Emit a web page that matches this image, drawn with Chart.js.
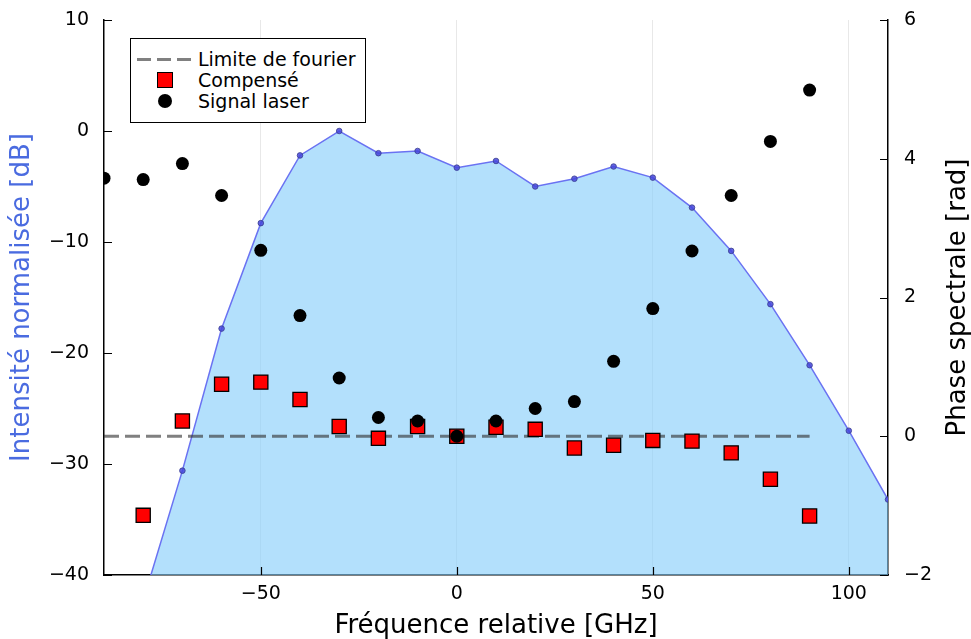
<!DOCTYPE html>
<html>
<head>
<meta charset="utf-8">
<script src="https://cdn.jsdelivr.net/npm/chart.js@4"></script>
<style>
    html, body { margin: 0; padding: 0; background: #fff; }
    #wrap { position: relative; width: 971px; height: 639px; }
    #legend {
        position: absolute; left: 130px; top: 38px; width: 236px; height: 85px;
        border: 1.5px solid #000; background: #fff; box-sizing: border-box;
        font: 19px "DejaVu Sans", sans-serif; color: #000;
    }
    .item { position: absolute; left: 0; height: 22px; line-height: 22px; width: 100%; }
    .item span { position: absolute; left: 67px; white-space: nowrap; }
    .dash { position: absolute; left: 6px; top: 10px; width: 56px; height: 3px;
            background: repeating-linear-gradient(90deg, #808080 0 14px, transparent 14px 20px); }
    .sq { position: absolute; left: 26px; top: 3px; width: 16px; height: 16px;
          background: #f00; border: 1.5px solid #000; box-sizing: border-box; }
    .dot { position: absolute; left: 27px; top: 4px; width: 14px; height: 14px;
           background: #000; border-radius: 50%; }
</style>
</head>
<body>
<div id="wrap">
    <canvas id="chart" width="971" height="639"></canvas>
    <div id="legend">
        <div class="item" style="top:9px"><div class="dash"></div><span>Limite de fourier</span></div>
        <div class="item" style="top:30px"><div class="sq"></div><span>Compensé</span></div>
        <div class="item" style="top:51px"><div class="dot"></div><span>Signal laser</span></div>
    </div>
</div>
<script>
const freqIntensite = [-80, -70, -60, -50, -40, -30, -20, -10, 0, 10, 20, 30, 40, 50, 60, 70, 80, 90, 100, 110];
const intensiteDb = [-42.3, -30.6, -17.8, -8.3, -2.2, 0, -2.0, -1.8, -3.3, -2.7, -5.0, -4.3, -3.2, -4.2, -6.9, -10.8, -15.6, -21.1, -27.0, -33.2];

const freqPhase = [-90, -80, -70, -60, -50, -40, -30, -20, -10, 0, 10, 20, 30, 40, 50, 60, 70, 80, 90];
const phaseLaser = [3.72, 3.70, 3.93, 3.47, 2.68, 1.74, 0.84, 0.27, 0.22, 0, 0.22, 0.40, 0.50, 1.08, 1.84, 2.67, 3.47, 4.25, 4.99];

const freqCompense = [-80, -70, -60, -50, -40, -30, -20, -10, 0, 10, 20, 30, 40, 50, 60, 70, 80, 90];
const phaseCompense = [-1.14, 0.22, 0.75, 0.78, 0.53, 0.14, -0.03, 0.14, 0, 0.13, 0.10, -0.17, -0.13, -0.06, -0.07, -0.24, -0.62, -1.15];

const limiteFreq = [-90, 90];
const limitePhase = [0, 0];

const xTicks = [-50, 0, 50, 100];
const yTicks = [-40, -30, -20, -10, 0, 10];
const y2Ticks = [-2, 0, 2, 4, 6];

function pts(xs, ys) {
    return xs.map((x, i) => ({ x: x, y: ys[i] }));
}

function minus(v) {
    return String(v).replace("-", "\u2212");
}

const tickFont = { family: "DejaVu Sans", size: 19 };
const titleFont = { family: "DejaVu Sans", size: 26 };

// inward ticks + right axis title (reads bottom to top)
const axisExtras = {
    id: "axisExtras",
    afterDraw(chart) {
        const { ctx, chartArea, scales } = chart;
        ctx.save();
        ctx.strokeStyle = "#000";
        ctx.lineWidth = 1.2;
        ctx.beginPath();
        xTicks.forEach(v => {
            const px = Math.round(scales.x.getPixelForValue(v)) + 0.5;
            ctx.moveTo(px, chartArea.bottom);
            ctx.lineTo(px, chartArea.bottom - 8);
        });
        yTicks.forEach(v => {
            const py = Math.round(scales.y.getPixelForValue(v)) + 0.5;
            ctx.moveTo(chartArea.left, py);
            ctx.lineTo(chartArea.left + 8, py);
        });
        y2Ticks.forEach(v => {
            const py = Math.round(scales.y2.getPixelForValue(v)) + 0.5;
            ctx.moveTo(chartArea.right, py);
            ctx.lineTo(chartArea.right - 8, py);
        });
        ctx.stroke();

        ctx.translate(958, (chartArea.top + chartArea.bottom) / 2);
        ctx.rotate(-Math.PI / 2);
        ctx.fillStyle = "#000";
        ctx.font = "26px 'DejaVu Sans'";
        ctx.textAlign = "center";
        ctx.textBaseline = "middle";
        ctx.fillText("Phase spectrale [rad]", 0, 0);
        ctx.restore();
    }
};

function fixVertical(width) {
    return function (scale) {
        scale.width = width;
        scale.paddingTop = 0;
        scale.paddingBottom = 0;
    };
}

new Chart(document.getElementById("chart"), {
    type: "scatter",
    data: {
        datasets: [
            {
                label: "Signal laser",
                data: pts(freqPhase, phaseLaser),
                yAxisID: "y2",
                backgroundColor: "#000",
                borderColor: "#000",
                pointRadius: 6.5,
                pointBorderWidth: 0,
                order: 1
            },
            {
                label: "Compensé",
                data: pts(freqCompense, phaseCompense),
                yAxisID: "y2",
                pointStyle: "rect",
                backgroundColor: "#ff0000",
                borderColor: "#000",
                pointBorderWidth: 1.3,
                pointRadius: 10,
                order: 2
            },
            {
                label: "Limite de fourier",
                type: "line",
                data: pts(limiteFreq, limitePhase),
                yAxisID: "y2",
                borderColor: "rgba(50, 50, 50, 0.62)",
                borderWidth: 3,
                borderDash: [15, 6],
                pointRadius: 0,
                fill: false,
                order: 3
            },
            {
                label: "Intensité",
                type: "line",
                data: pts(freqIntensite, intensiteDb),
                yAxisID: "y",
                borderColor: "#6a72f2",
                borderWidth: 1.5,
                backgroundColor: "rgba(135, 206, 250, 0.63)",
                fill: "start",
                pointRadius: 2.8,
                pointBackgroundColor: "rgba(70, 70, 220, 0.85)",
                pointBorderColor: "#3a3f8f",
                pointBorderWidth: 0.8,
                tension: 0,
                order: 4
            }
        ]
    },
    options: {
        responsive: false,
        animation: false,
        layout: { padding: { top: 20, left: 0, right: 0, bottom: 0 } },
        plugins: { legend: { display: false }, tooltip: { enabled: false } },
        scales: {
            x: {
                type: "linear",
                min: -90,
                max: 110,
                afterBuildTicks(scale) { scale.ticks = xTicks.map(v => ({ value: v })); },
                afterFit(scale) { scale.height = 64; scale.paddingLeft = 0; scale.paddingRight = 0; },
                grid: { color: "rgba(0,0,0,0.09)", lineWidth: 1, drawTicks: false },
                border: { color: "#000", width: 1.5 },
                ticks: { font: tickFont, color: "#000", padding: 8, callback: v => minus(v) },
                title: { display: true, text: "Fréquence relative [GHz]", font: titleFont, color: "#000", padding: { top: 0, bottom: -3 } }
            },
            y: {
                position: "left",
                min: -40,
                max: 10,
                afterBuildTicks(scale) { scale.ticks = yTicks.map(v => ({ value: v })); },
                afterFit: fixVertical(104),
                grid: { drawOnChartArea: false, drawTicks: false },
                border: { color: "#000", width: 1.5 },
                ticks: { font: tickFont, color: "#000", padding: 15, callback: v => minus(v) },
                title: { display: true, text: "Intensité normalisée [dB]", font: titleFont, color: "#4a6be0", padding: { top: 7, bottom: 0 } }
            },
            y2: {
                position: "right",
                min: -2,
                max: 6,
                afterBuildTicks(scale) { scale.ticks = y2Ticks.map(v => ({ value: v })); },
                afterFit: fixVertical(83),
                grid: { drawOnChartArea: false, drawTicks: false },
                border: { color: "#000", width: 1.5 },
                ticks: { font: tickFont, color: "#000", padding: 16, callback: v => minus(v) }
            }
        }
    },
    plugins: [axisExtras]
});
</script>
</body>
</html>
